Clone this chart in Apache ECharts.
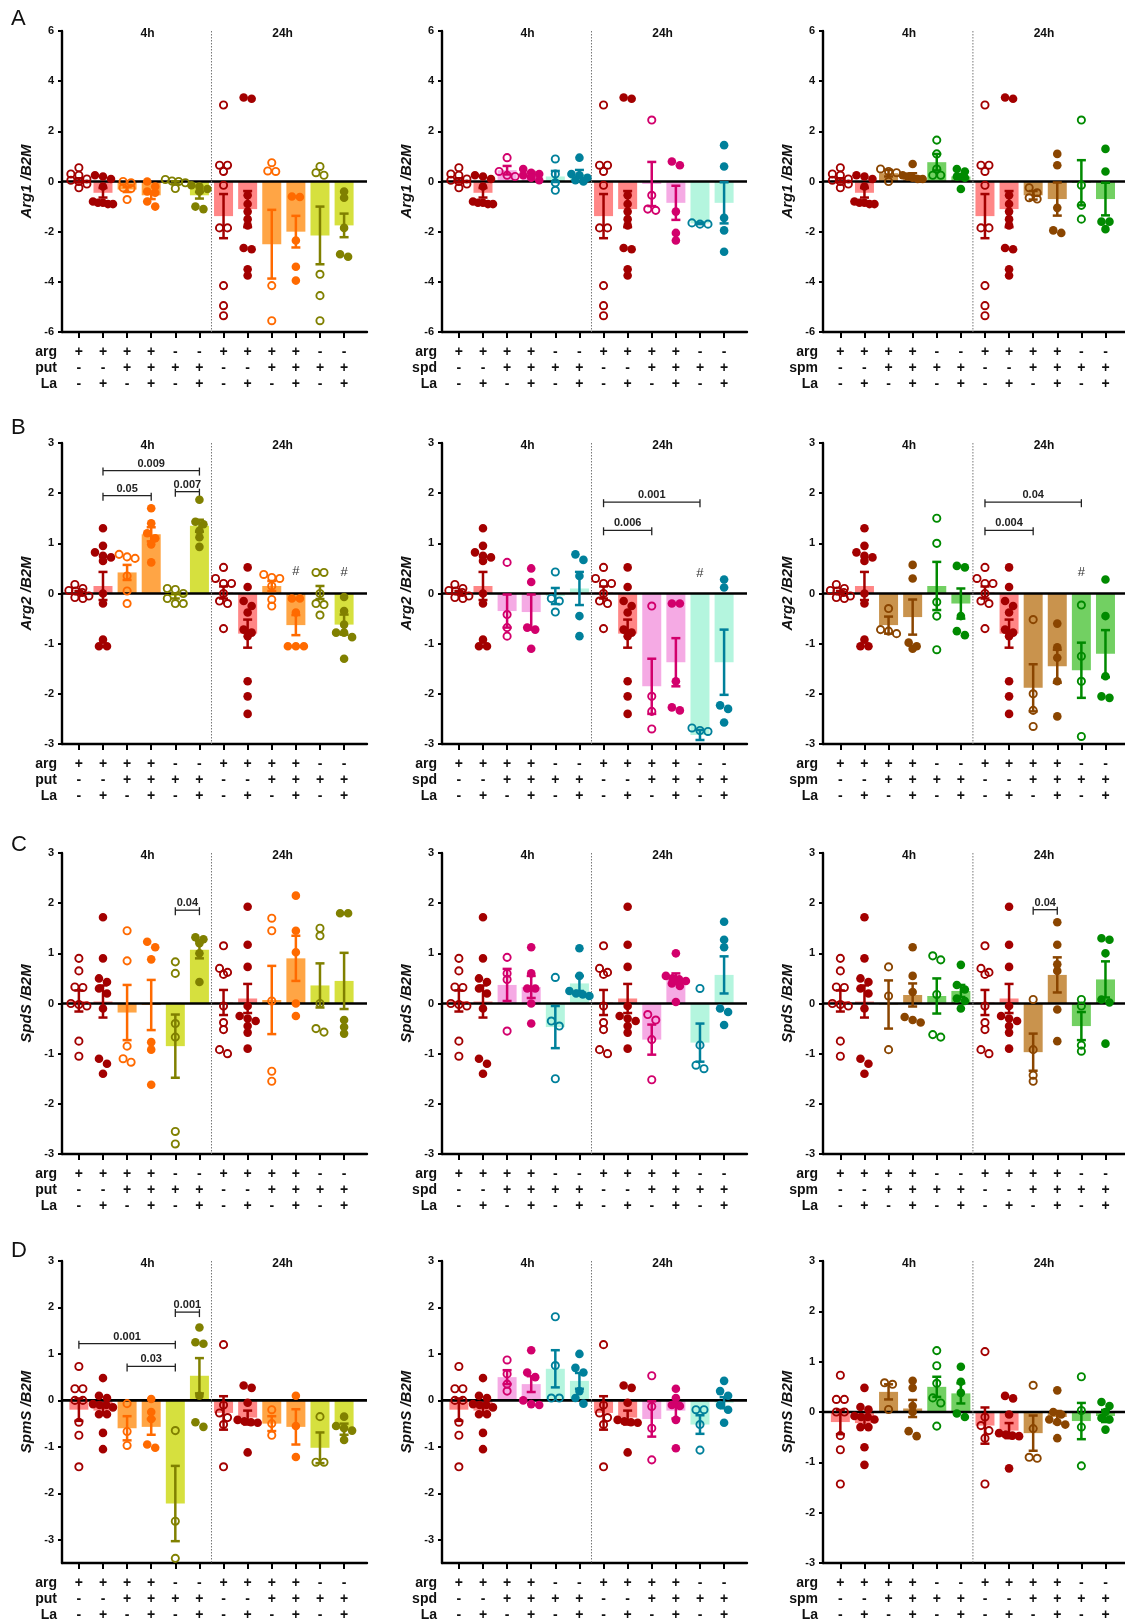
<!DOCTYPE html>
<html><head><meta charset="utf-8">
<script src="https://cdn.jsdelivr.net/npm/echarts@6/dist/echarts.min.js"></script>
<style>html,body{margin:0;padding:0;background:#fff}#c{width:1125px;height:1621px}</style>
</head><body><div id="c"></div><script>
const FONT = '"Liberation Sans", Arial, sans-serif';
const genes = ['Arg1', 'Arg2', 'SpdS', 'SpmS'];
const polyamines = ['put', 'spd', 'spm'];
const panelLetters = ['A', 'B', 'C', 'D'];
const argRow = ['+','+','+','+','-','-','+','+','+','+','-','-'];
const polyRow = ['-','-','+','+','+','+','-','-','+','+','+','+'];
const laRow = ['-','+','-','+','-','+','-','+','-','+','-','+'];
const timeLabels = ['4h', '24h'];
const ticksA = [-6, -4, -2, 0, 2, 4, 6];
const ticksBCD = [-3, -2, -1, 0, 1, 2, 3];

// ---- Arg1 ----
const arg1CtrlMean = [0.05, -0.45, -1.38, -1.1];
const arg1CtrlSem = [0.08, 0.19, 0.88, 0.72];
const arg1CtrlPts = [[0.55,0.3,0.25,0.1,0.05,0,-0.1,-0.25],[0.25,0.2,0.1,-0.2,-0.8,-0.85,-0.9,-0.9,-0.85],[3.05,0.65,0.65,0.4,-0.15,-1.85,-1.85,-4.15,-4.95,-5.35],[3.35,3.3,-0.55,-0.9,-1.2,-1.5,-1.75,-2.65,-2.7,-3.5,-3.75]];
const arg1PutMean = [-0.32, -0.55, -0.05, -0.55, -2.5, -2.0, -2.15, -1.75];
const arg1PutSem = [0.1, 0.15, 0.06, 0.13, 1.37, 0.63, 1.15, 0.47];
const arg1PutPts = [[0,-0.05,-0.25,-0.28,-0.72],[0,-0.2,-0.4,-0.45,-0.8,-1.0],[0.08,0.02,0,-0.05,-0.28],[-0.15,-0.2,-0.3,-0.4,-1.0,-1.1],[0.75,0.42,0.4,-4.15,-5.55],[-0.6,-0.62,-2.35,-3.4,-3.95],[0.6,0.35,0.25,-3.7,-4.55,-5.55],[-0.4,-0.65,-1.85,-2.9,-3.0]];
const arg1SpdMean = [0.45, 0.3, 0.2, 0.3, -0.1, -0.85, -1.67, -0.85];
const arg1SpdSem = [0.17, 0.08, 0.22, 0.16, 0.88, 0.68, 0.03, 0.82];
const arg1SpdPts = [[0.95,0.4,0.25,0.2],[0.5,0.35,0.3,0.25,0.15,0.05],[0.9,0.3,-0.05,-0.35],[0.95,0.3,0.25,0.15,0.05,0],[2.45,-0.55,-1.1,-1.15],[0.8,0.65,-1.2,-2.05,-2.35],[-1.65,-1.7,-1.7],[1.45,0.6,-1.45,-1.95,-2.8]];
const arg1SpmMean = [0.33, 0.25, 0.77, 0.2, -0.55, -0.7, -0.05, -0.7];
const arg1SpmSem = [0.13, 0.08, 0.33, 0.1, 0.17, 0.66, 0.9, 0.65];
const arg1SpmPts = [[0.5,0.4,0.35,0],[0.7,0.25,0.2,0.15,0.1,0.1],[1.65,1.1,0.5,0.25,0.25],[0.5,0.4,0.2,0.15,-0.3],[-0.25,-0.45,-0.65,-0.7],[1.1,0.65,-1.05,-1.95,-2.05],[2.45,-0.15,-0.95,-1.5],[1.3,0.4,-1.6,-1.6,-1.9]];

// ---- Arg2 ----
const arg2CtrlMean = [0.02, 0.15, 0.02, -0.8];
const arg2CtrlSem = [0.03, 0.28, 0.12, 0.28];
const arg2CtrlPts = [[0.18,0.1,0.06,0.05,0.02,-0.05,-0.08,-0.1],[1.3,0.95,0.82,0.75,0.72,0.65,0,-0.2,-0.92,-1.05,-1.05],[0.52,0.3,0.2,0.2,0,-0.15,-0.2,-0.7],[0.52,0.13,-0.15,-0.25,-0.38,-0.72,-0.78,-0.85,-1.75,-2.05,-2.4]];
const arg2PutMean = [0.42, 1.18, -0.05, 1.35, 0.15, -0.63, 0.02, -0.62];
const arg2PutSem = [0.15, 0.14, 0.05, 0.12, 0.1, 0.2, 0.13, 0.2];
const arg2PutPts = [[0.78,0.73,0.7,0.35,0.05,-0.2],[1.7,1.4,1.2,1.1,0.98,0.62],[0.1,0.08,0,-0.1,-0.2,-0.2],[1.87,1.43,1.38,1.25,1.12,0.93],[0.38,0.32,0.3,0.15,-0.12,-0.25],[-0.1,-0.1,-0.38,-1.05,-1.05,-1.05],[0.42,0.42,0,-0.2,-0.22,-0.43],[-0.07,-0.35,-0.62,-0.78,-0.78,-0.87,-1.3]];
const arg2PutBrackets = [[1, 3, 1.95, '0.05'], [1, 5, 2.45, '0.009'], [4, 5, 2.03, '0.007']];
const arg2PutHash = [[9, 0.45], [11, 0.42]];
const arg2SpdMean = [-0.35, -0.37, -0.05, 0.1, -1.85, -1.37, -2.82, -1.37];
const arg2SpdSem = [0.33, 0.35, 0.16, 0.33, 0.55, 0.48, 0.1, 0.65];
const arg2SpdPts = [[0.62,-0.42,-0.68,-0.85],[0.5,0.23,-0.68,-0.72,-1.1],[0.43,-0.1,-0.15,-0.37],[0.78,0.67,0.35,-0.45,-0.85],[-0.25,-2.05,-2.35,-2.7],[-0.2,-0.2,-1.75,-2.27,-2.33],[-2.68,-2.73,-2.75],[0.28,0.12,-2.23,-2.3,-2.57]];
const arg2SpdBrackets = [[6, 8, 1.26, '0.006'], [6, 10, 1.82, '0.001']];
const arg2SpdHash = [[10, 0.4]];
const arg2SpmMean = [-0.63, -0.47, 0.15, -0.2, -1.88, -1.45, -1.53, -1.2];
const arg2SpmSem = [0.17, 0.35, 0.48, 0.3, 0.47, 0.33, 0.55, 0.47];
const arg2SpmPts = [[-0.3,-0.72,-0.75,-0.8],[0.57,0.3,-0.98,-1.05,-1.1],[1.5,1.0,-0.17,-0.45,-1.12],[0.55,0.52,-0.45,-0.75,-0.83],[-0.52,-2.0,-2.33,-2.65],[-0.6,-1.07,-1.28,-1.75,-2.45],[-0.23,-1.25,-1.75,-2.85],[0.28,-0.45,-1.65,-2.05,-2.08]];
const arg2SpmBrackets = [[6, 8, 1.26, '0.004'], [6, 10, 1.82, '0.04']];
const arg2SpmHash = [[10, 0.42]];

// ---- SpdS ----
const spdsCtrlMean = [0.05, 0.04, 0.02, 0.1];
const spdsCtrlSem = [0.21, 0.32, 0.25, 0.29];
const spdsCtrlPts = [[0.9,0.65,0.33,0.32,0,-0.02,-0.05,-0.75,-1.05],[1.72,0.9,0.5,0.43,0.3,0.2,-0.1,-1.1,-1.2,-1.4],[1.15,0.7,0.62,0.58,-0.05,-0.38,-0.52,-0.92,-1.0],[1.93,1.17,0.73,-0.05,-0.25,-0.3,-0.35,-0.45,-0.58,-0.9]];
const spdsPutMean = [-0.18, -0.03, -0.85, 1.07, 0.07, 0.9, 0.36, 0.45];
const spdsPutSem = [0.55, 0.5, 0.63, 0.17, 0.68, 0.45, 0.44, 0.56];
const spdsPutPts = [[1.45,0.85,-0.85,-1.1,-1.17],[1.23,1.12,0.88,-0.77,-0.92,-1.62],[0.83,0.6,-0.4,-0.67,-2.55,-2.8],[1.32,1.28,1.2,1.0,0.43],[1.7,1.45,0.05,-1.35,-1.55],[2.15,1.45,1.02,0,-0.25],[1.5,1.35,0,-0.5,-0.57],[1.8,1.8,-0.33,-0.47,-0.6]];
const spdsPutBrackets = [[4, 5, 1.86, '0.04']];
const spdsSpdMean = [0.37, 0.33, -0.47, 0.4, -0.72, 0.5, -0.78, 0.57];
const spdsSpdSem = [0.32, 0.22, 0.42, 0.15, 0.3, 0.1, 0.38, 0.37];
const spdsSpdPts = [[0.92,0.6,0.48,-0.55],[1.12,0.6,0.3,0.3,0,-0.4],[0.52,-0.35,-0.45,-1.5],[1.1,0.55,0.25,0.2,0.18,0.15],[-0.22,-0.33,-0.72,-1.52],[1.0,0.55,0.5,0.48,0.45,0.4,0.35,0.03],[0.3,-0.83,-1.23,-1.3],[1.63,1.27,1.12,-0.1,-0.17,-0.43]];
const spdsSpmMean = [-0.02, 0.17, 0.15, 0.25, -0.97, 0.57, -0.45, 0.48];
const spdsSpmSem = [0.48, 0.23, 0.35, 0.12, 0.37, 0.35, 0.28, 0.36];
const spdsSpmPts = [[0.73,0.15,-0.92],[1.12,0.55,0.23,-0.27,-0.33,-0.38],[0.95,0.87,0.18,-0.62,-0.67],[0.77,0.37,0.28,0.1,0.05,-0.1],[0.08,-0.92,-1.43,-1.55],[1.62,1.17,0.78,0.65,-0.12,-0.75],[0.08,-0.05,-0.83,-0.95],[1.3,1.27,1.0,0.08,0.02,-0.8]];
const spdsSpmBrackets = [[8, 9, 1.87, '0.04']];

// ---- SpmS ----
const spmsCtrlMean = [-0.2, -0.22, -0.27, -0.37];
const spmsCtrlSem = [0.24, 0.09, 0.36, 0.15];
const spmsCtrlPts = [[0.73,0.25,0.25,0,0,-0.47,-0.75,-1.43],[0.48,0.1,0.05,-0.08,-0.1,-0.1,-0.15,-0.3,-0.3,-0.7,-1.05],[1.2,-0.1,-0.27,-0.37,-0.52,-1.43],[0.32,0.27,-0.05,-0.42,-0.45,-0.47,-0.48,-1.12]];
const spmsPutMean = [-0.6, -0.57, -2.22, 0.53, -0.5, -0.57, -1.02, -0.62];
const spmsPutSem = [0.26, 0.17, 0.81, 0.38, 0.16, 0.38, 0.33, 0.12];
const spmsPutPts = [[-0.07,-0.67,-0.97],[0.03,-0.25,-0.4,-0.95,-1.02],[-0.65,-2.6,-3.4],[1.57,1.25,1.22,0.1,-0.47,-0.57],[-0.2,-0.5,-0.75],[0.1,-0.55,-1.22],[-0.35,-1.33,-1.33],[-0.35,-0.55,-0.6,-0.65,-0.85]];
const spmsPutBrackets = [[0, 4, 1.22, '0.001'], [2, 4, 0.73, '0.03'], [4, 5, 1.9, '0.001']];
const spmsSpdMean = [0.5, 0.35, 0.68, 0.42, -0.4, -0.22, -0.52, -0.05];
const spmsSpdSem = [0.15, 0.17, 0.4, 0.17, 0.38, 0.17, 0.2, 0.12];
const spmsSpdPts = [[0.87,0.57,0.35,0.2],[1.08,0.6,0.5,0,-0.08,-0.1],[1.8,0.75,0.05,0.05],[1.0,0.7,0.6,0.2,0.05,-0.07],[0.53,-0.13,-0.6,-1.28],[0.25,0.05,-0.1,-0.12,-0.42,-1.03],[-0.2,-0.2,-0.52,-1.07],[0.42,0.2,0.1,-0.1,-0.2,-0.48]];
const spmsSpmMean = [0.4, 0.07, 0.5, 0.37, -0.42, -0.1, -0.18, -0.08];
const spmsSpmSem = [0.15, 0.17, 0.2, 0.2, 0.35, 0.12, 0.36, 0.12];
const spmsSpmPts = [[0.58,0.55,0.05],[0.62,0.48,0.12,0,-0.38,-0.48],[1.22,0.92,0.57,0.28,0.18,-0.28],[0.9,0.6,0.38,-0.03,-0.1],[0.53,-0.33,-0.9,-0.92],[0.43,0,-0.05,-0.15,-0.2,-0.25,-0.52],[0.7,0.03,-0.3,-1.07],[0.2,0.12,0,-0.12,-0.15,-0.35]];

const geneData = [
  { ctrl: [arg1CtrlMean, arg1CtrlSem, arg1CtrlPts],
    put: [arg1PutMean, arg1PutSem, arg1PutPts], spd: [arg1SpdMean, arg1SpdSem, arg1SpdPts], spm: [arg1SpmMean, arg1SpmSem, arg1SpmPts] },
  { ctrl: [arg2CtrlMean, arg2CtrlSem, arg2CtrlPts],
    put: [arg2PutMean, arg2PutSem, arg2PutPts, arg2PutBrackets, arg2PutHash], spd: [arg2SpdMean, arg2SpdSem, arg2SpdPts, arg2SpdBrackets, arg2SpdHash], spm: [arg2SpmMean, arg2SpmSem, arg2SpmPts, arg2SpmBrackets, arg2SpmHash] },
  { ctrl: [spdsCtrlMean, spdsCtrlSem, spdsCtrlPts],
    put: [spdsPutMean, spdsPutSem, spdsPutPts, spdsPutBrackets], spd: [spdsSpdMean, spdsSpdSem, spdsSpdPts], spm: [spdsSpmMean, spdsSpmSem, spdsSpmPts, spdsSpmBrackets] },
  { ctrl: [spmsCtrlMean, spmsCtrlSem, spmsCtrlPts],
    put: [spmsPutMean, spmsPutSem, spmsPutPts, spmsPutBrackets], spd: [spmsSpdMean, spmsSpdSem, spmsSpdPts], spm: [spmsSpmMean, spmsSpmSem, spmsSpmPts] }
];

const pointColors = { arg: '#a30000', put: '#ff6a00', putOnly: '#808000', spd: '#d2006c', spdOnly: '#00809b', spm: '#8a4500', spmOnly: '#008a00' };
const barColors = { arg: '#ff8686', put: '#ffa545', putOnly: '#d6e03e', spd: '#f5aae4', spdOnly: '#b4f5de', spm: '#c9934d', spmOnly: '#72d062' };

const ctrlIdx = [0, 1, 6, 7], polyIdx = [2, 3, 4, 5, 8, 9, 10, 11];
function merge(c, p) { const o = []; ctrlIdx.forEach((b, k) => o[b] = c[k]); polyIdx.forEach((b, k) => o[b] = p[k]); return o; }
function groupKey(poly, i) {
  if (argRow[i] === '+' && polyRow[i] === '-') return 'arg';
  if (argRow[i] === '+') return poly;
  return poly + 'Only';
}
function swarm(ys, D, maxOff) {
  const order = ys.map((y, k) => k).sort((a, b) => ys[a] - ys[b]);
  const xs = new Array(ys.length).fill(0);
  let g = [];
  const flush = () => {
    const n = g.length;
    const sp = n > 1 ? Math.min(D, 2 * maxOff / (n - 1)) : 0;
    g.forEach((k, j) => xs[k] = (j - (n - 1) / 2) * sp);
    g = [];
  };
  for (const k of order) { if (g.length && ys[k] - ys[g[0]] >= D * 0.75) flush(); g.push(k); }
  flush();
  return xs;
}

// layout
const colLeft = [62, 442, 823], colWidth = [305, 305, 302];
const colXMin = [-0.7, -0.7, -0.72], colXMax = [11.95, 11.95, 11.81];
const rowTop = [31, 443, 853, 1261], rowHeight = [301, 301, 301, 302];
const headerX = [2.85, 8.45], dividerX = 5.5;
const BAR_W = 19;
const catIdx = [0,1,2,3,4,5,6,7,8,9,10,11];

const grids = [], xAxes = [], yAxes = [], series = [], graphics = [];
genes.forEach((gene, r) => {
  polyamines.forEach((poly, c) => {
    const p = r * 3 + c;
    const G = geneData[r], pd = G[poly];
    const means = merge(G.ctrl[0], pd[0]);
    const sems = merge(G.ctrl[1], pd[1]);
    const pts = merge(G.ctrl[2], pd[2]);
    const brackets = pd[3] || [];
    const hashes = pd[4] || [];
    const yr = r === 0 ? [-6, 6] : (r === 3 && c < 2 ? [-3.5, 3] : [-3, 3]);
    const ticks = r === 0 ? ticksA : ticksBCD;
    const xmin = colXMin[c], xmax = colXMax[c];
    const ptCol = i => pointColors[groupKey(poly, i)];
    const barCol = i => barColors[groupKey(poly, i)];
    grids.push({ left: colLeft[c], top: rowTop[r], width: colWidth[c], height: rowHeight[r], outerBoundsMode: 'none' });
    xAxes.push({
      gridIndex: p, type: 'value', min: xmin, max: xmax,
      axisLine: { show: true, onZero: false, lineStyle: { color: '#000', width: 2.4 } },
      axisTick: { show: true, customValues: catIdx, length: 6, lineStyle: { color: '#000', width: 2 } },
      axisLabel: { customValues: catIdx, margin: 12, fontSize: 14, fontWeight: 'bold', fontFamily: FONT, color: '#111', lineHeight: 16,
        formatter: v => { const i = Math.round(v); return argRow[i] + '\n' + polyRow[i] + '\n' + laRow[i]; } },
      splitLine: { show: false }
    });
    yAxes.push({
      gridIndex: p, type: 'value', min: yr[0], max: yr[1],
      axisLine: { show: true, onZero: false, lineStyle: { color: '#000', width: 2.4 } },
      axisTick: { show: true, customValues: ticks, length: 4, lineStyle: { color: '#000', width: 2 } },
      axisLabel: { customValues: ticks, margin: 8, fontSize: 11, fontWeight: 'bold', fontFamily: FONT, color: '#111' },
      splitLine: { show: false },
      name: gene + ' /B2M', nameLocation: 'middle', nameGap: 28,
      nameTextStyle: { fontSize: 15, fontWeight: 'bold', fontStyle: 'italic', fontFamily: FONT, color: '#111' }
    });
    // bars
    series.push({
      type: 'custom', xAxisIndex: p, yAxisIndex: p, z: 2, silent: true,
      data: means.map((m, i) => [i, m]),
      renderItem: (params, api) => {
        const i = api.value(0), m = api.value(1);
        const a = api.coord([i, m]), b = api.coord([i, 0]);
        return { type: 'rect', shape: { x: a[0] - BAR_W / 2, y: Math.min(a[1], b[1]), width: BAR_W, height: Math.abs(a[1] - b[1]) }, style: { fill: barCol(i) } };
      }
    });
    // annotations
    series.push({
      type: 'custom', xAxisIndex: p, yAxisIndex: p, z: 3, silent: true,
      data: [[0, 0]],
      renderItem: (params, api) => {
        const ch = [];
        const tl = api.coord([xmin, yr[1]]), br = api.coord([xmax, yr[0]]);
        const z0 = api.coord([xmin, 0]), z1 = api.coord([xmax, 0]);
        ch.push({ type: 'line', shape: { x1: z0[0], y1: z0[1], x2: z1[0], y2: z1[1] }, style: { stroke: '#000', lineWidth: 2.6 } });
        const d0 = api.coord([dividerX, yr[1]]), d1 = api.coord([dividerX, yr[0]]);
        ch.push({ type: 'line', shape: { x1: d0[0], y1: d0[1], x2: d1[0], y2: d1[1] }, style: { stroke: '#777', lineWidth: 1, lineDash: [1.5, 1.5] } });
        timeLabels.forEach((t, k) => {
          const q = api.coord([headerX[k], yr[1]]);
          ch.push({ type: 'text', x: q[0], y: q[1] + 3, style: { text: t, fill: '#111', font: 'bold 12px ' + FONT, align: 'center', verticalAlign: 'middle', textAlign: 'center', textVerticalAlign: 'middle' } });
        });
        ['arg', poly, 'La'].forEach((t, k) => {
          ch.push({ type: 'text', x: tl[0] - 5, y: br[1] + 20 + k * 16, style: { text: t, fill: '#111', font: 'bold 14px ' + FONT, align: 'right', verticalAlign: 'middle', textAlign: 'right', textVerticalAlign: 'middle' } });
        });
        brackets.forEach(([a, b, y, lab]) => {
          const pa = api.coord([a, y]), pb = api.coord([b, y]);
          const st = { stroke: '#222', lineWidth: 1.3 };
          ch.push({ type: 'line', shape: { x1: pa[0], y1: pa[1], x2: pb[0], y2: pb[1] }, style: st });
          ch.push({ type: 'line', shape: { x1: pa[0], y1: pa[1] - 3, x2: pa[0], y2: pa[1] + 5 }, style: st });
          ch.push({ type: 'line', shape: { x1: pb[0], y1: pb[1] - 3, x2: pb[0], y2: pb[1] + 5 }, style: st });
          ch.push({ type: 'text', x: (pa[0] + pb[0]) / 2, y: pa[1] - 7, style: { text: lab, fill: '#222', font: 'bold 11px ' + FONT, align: 'center', verticalAlign: 'middle', textAlign: 'center', textVerticalAlign: 'middle' } });
        });
        hashes.forEach(([i, y]) => {
          const q = api.coord([i, y]);
          ch.push({ type: 'text', x: q[0], y: q[1], style: { text: '#', fill: '#333', font: '13px ' + FONT, align: 'center', verticalAlign: 'middle', textAlign: 'center', textVerticalAlign: 'middle' } });
        });
        return { type: 'group', children: ch };
      }
    });
    // points
    series.push({
      type: 'custom', xAxisIndex: p, yAxisIndex: p, z: 4, silent: true,
      data: means.map((m, i) => [i, m]),
      renderItem: (params, api) => {
        const i = api.value(0);
        const vals = pts[i];
        const cx = api.coord([i, 0])[0];
        const ys = vals.map(v => api.coord([i, v])[1]);
        const xs = swarm(ys, 8, 10);
        const col = ptCol(i), filled = laRow[i] === '+';
        return { type: 'group', children: ys.map((y, k) => ({
          type: 'circle', shape: { cx: cx + xs[k], cy: y, r: filled ? 4.3 : 3.6 },
          style: filled ? { fill: col } : { fill: 'none', stroke: col, lineWidth: 1.9 }
        })) };
      }
    });
    // error bars
    series.push({
      type: 'custom', xAxisIndex: p, yAxisIndex: p, z: 5, silent: true,
      data: means.map((m, i) => [i, m, sems[i]]),
      renderItem: (params, api) => {
        const i = api.value(0), m = api.value(1), s = api.value(2);
        const t = api.coord([i, m + s]), b = api.coord([i, m - s]);
        const st = { stroke: ptCol(i), lineWidth: 2.5 };
        const cw = 4.5;
        return { type: 'group', children: [
          { type: 'line', shape: { x1: t[0], y1: t[1], x2: b[0], y2: b[1] }, style: st },
          { type: 'line', shape: { x1: t[0] - cw, y1: t[1], x2: t[0] + cw, y2: t[1] }, style: st },
          { type: 'line', shape: { x1: b[0] - cw, y1: b[1], x2: b[0] + cw, y2: b[1] }, style: st }
        ] };
      }
    });
  });
});
const letterY = [18.5, 428, 845, 1251];
panelLetters.forEach((L, r) => graphics.push({ type: 'text', left: 11, top: letterY[r] - 11, style: { text: L, font: '22px ' + FONT, fill: '#111' } }));

const chart = echarts.init(document.getElementById('c'), null, { renderer: 'canvas', width: 1125, height: 1621 });
chart.setOption({ animation: false, backgroundColor: '#fff', grid: grids, xAxis: xAxes, yAxis: yAxes, series: series, graphic: graphics });
</script></body></html>
